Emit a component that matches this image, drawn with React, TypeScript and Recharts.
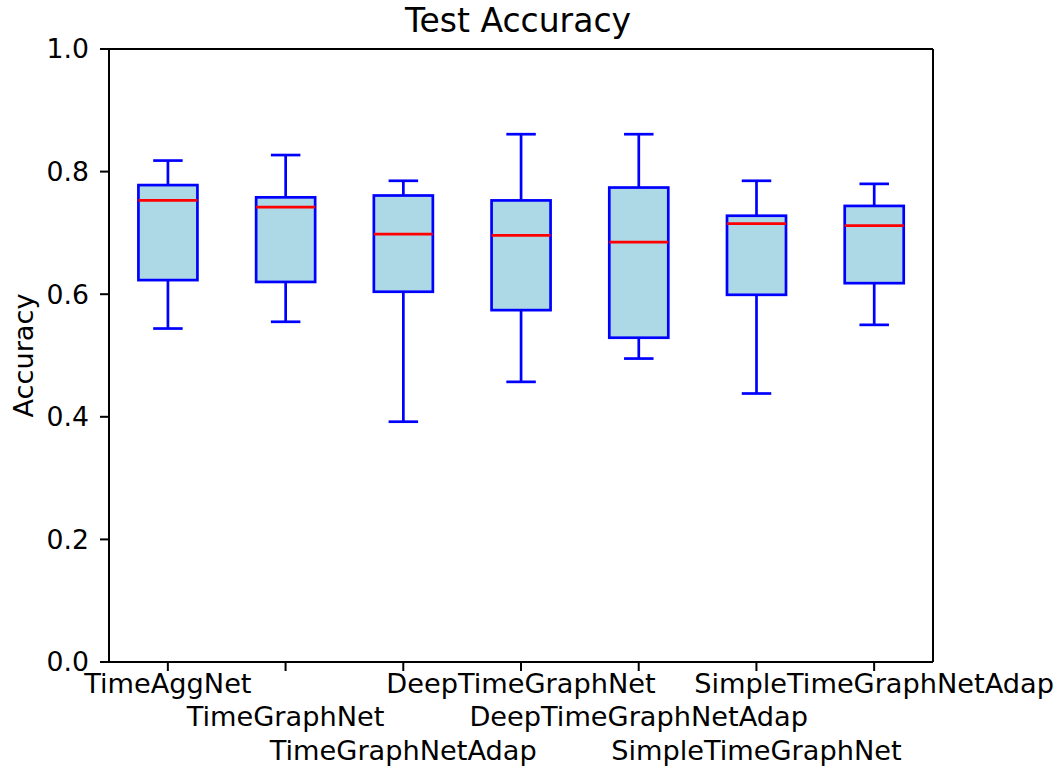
import {
  ComposedChart,
  Bar,
  XAxis,
  YAxis,
  Label,
} from "recharts";

const categories = [
  "TimeAggNet",
  "TimeGraphNet",
  "TimeGraphNetAdap",
  "DeepTimeGraphNet",
  "DeepTimeGraphNetAdap",
  "SimpleTimeGraphNet",
  "SimpleTimeGraphNetAdap",
];
const whiskerLow = [0.544, 0.555, 0.392, 0.457, 0.495, 0.438, 0.55];
const q1 = [0.623, 0.62, 0.604, 0.574, 0.529, 0.599, 0.618];
const medians = [0.753, 0.742, 0.698, 0.696, 0.685, 0.715, 0.712];
const q3 = [0.778, 0.758, 0.761, 0.753, 0.774, 0.728, 0.744];
const whiskerHigh = [0.818, 0.827, 0.785, 0.861, 0.861, 0.785, 0.78];
const yTicks = [0, 0.2, 0.4, 0.6, 0.8, 1.0];

const FONT = "'DejaVu Sans', sans-serif";
const TICK_SIZE = 27.2;

const data = categories.map((name, i) => ({
  name,
  low: whiskerLow[i],
  q1: q1[i],
  median: medians[i],
  q3: q3[i],
  high: whiskerHigh[i],
}));

// box drawn inside the range bar [low, high] the library lays out
function BoxShape(props: any) {
  const { x, y, width, height, payload } = props;
  const top = Math.min(y, y + height);
  const bottom = Math.max(y, y + height);
  const span = payload.high - payload.low;
  const toPx = (v: number) => bottom - ((v - payload.low) / span) * (bottom - top);
  const cx = x + width / 2;
  const capHalf = width / 4;
  const yq1 = toPx(payload.q1);
  const yq3 = toPx(payload.q3);
  const ymed = toPx(payload.median);
  const sw = 2.7;
  return (
    <g>
      <line x1={cx} x2={cx} y1={top} y2={yq3} stroke="#0000ff" strokeWidth={sw} />
      <line x1={cx} x2={cx} y1={yq1} y2={bottom} stroke="#0000ff" strokeWidth={sw} />
      <line x1={cx - capHalf} x2={cx + capHalf} y1={top} y2={top} stroke="#0000ff" strokeWidth={sw} />
      <line x1={cx - capHalf} x2={cx + capHalf} y1={bottom} y2={bottom} stroke="#0000ff" strokeWidth={sw} />
      <rect
        x={x}
        y={yq3}
        width={width}
        height={yq1 - yq3}
        fill="#add8e6"
        stroke="#0000ff"
        strokeWidth={sw}
      />
      <line x1={x} x2={x + width} y1={ymed} y2={ymed} stroke="#ff0000" strokeWidth={sw} />
    </g>
  );
}

function StaggerTick(props: any) {
  const { x, y, payload, index } = props;
  const row = index % 3;
  return (
    <text
      x={x}
      y={y + 19.5 + row * 33.5}
      textAnchor="middle"
      fontSize={TICK_SIZE}
      fontFamily={FONT}
      fill="#000"
    >
      {payload.value}
    </text>
  );
}

export default function App() {
  return (
    <div
      style={{
        position: "absolute",
        left: 0,
        top: 0,
        width: 1062,
        height: 771,
        background: "#fff",
      }}
    >
      <ComposedChart
        width={1062}
        height={771}
        data={data}
        margin={{ top: 48, right: 128, bottom: 0, left: 0 }}
        barCategoryGap="25%"
      >
        <XAxis
          dataKey="name"
          height={109}
          interval={0}
          axisLine={{ stroke: "#000", strokeWidth: 2 }}
          tickLine={{ stroke: "#000", strokeWidth: 2 }}
          tickSize={9}
          tick={<StaggerTick />}
        />
        <XAxis
          xAxisId="top"
          dataKey="name"
          orientation="top"
          height={1}
          tick={false}
          tickLine={false}
          axisLine={{ stroke: "#000", strokeWidth: 2 }}
        >
          <Label
            value="Test Accuracy"
            position="top"
            offset={16}
            dx={-3}
            style={{ fontSize: 33, fontFamily: FONT, fill: "#000" }}
          />
        </XAxis>
        <YAxis
          type="number"
          domain={[0, 1]}
          ticks={yTicks}
          width={109}
          tickSize={9}
          tickMargin={11}
          axisLine={{ stroke: "#000", strokeWidth: 2 }}
          tickLine={{ stroke: "#000", strokeWidth: 2 }}
          tick={{ fontSize: 26.7, fontFamily: FONT, fill: "#000" }}
          tickFormatter={(v: number) => v.toFixed(1)}
        >
          <Label
            value="Accuracy"
            angle={-90}
            position="insideLeft"
            offset={23.5}
            style={{ fontSize: TICK_SIZE, fontFamily: FONT, fill: "#000", textAnchor: "middle" }}
          />
        </YAxis>
        <YAxis
          yAxisId="right"
          orientation="right"
          type="number"
          domain={[0, 1]}
          width={1}
          tick={false}
          tickLine={false}
          axisLine={{ stroke: "#000", strokeWidth: 2 }}
        />
        <Bar
          dataKey={(d: any) => [d.low, d.high]}
          shape={<BoxShape />}
          isAnimationActive={false}
        />
      </ComposedChart>
    </div>
  );
}
